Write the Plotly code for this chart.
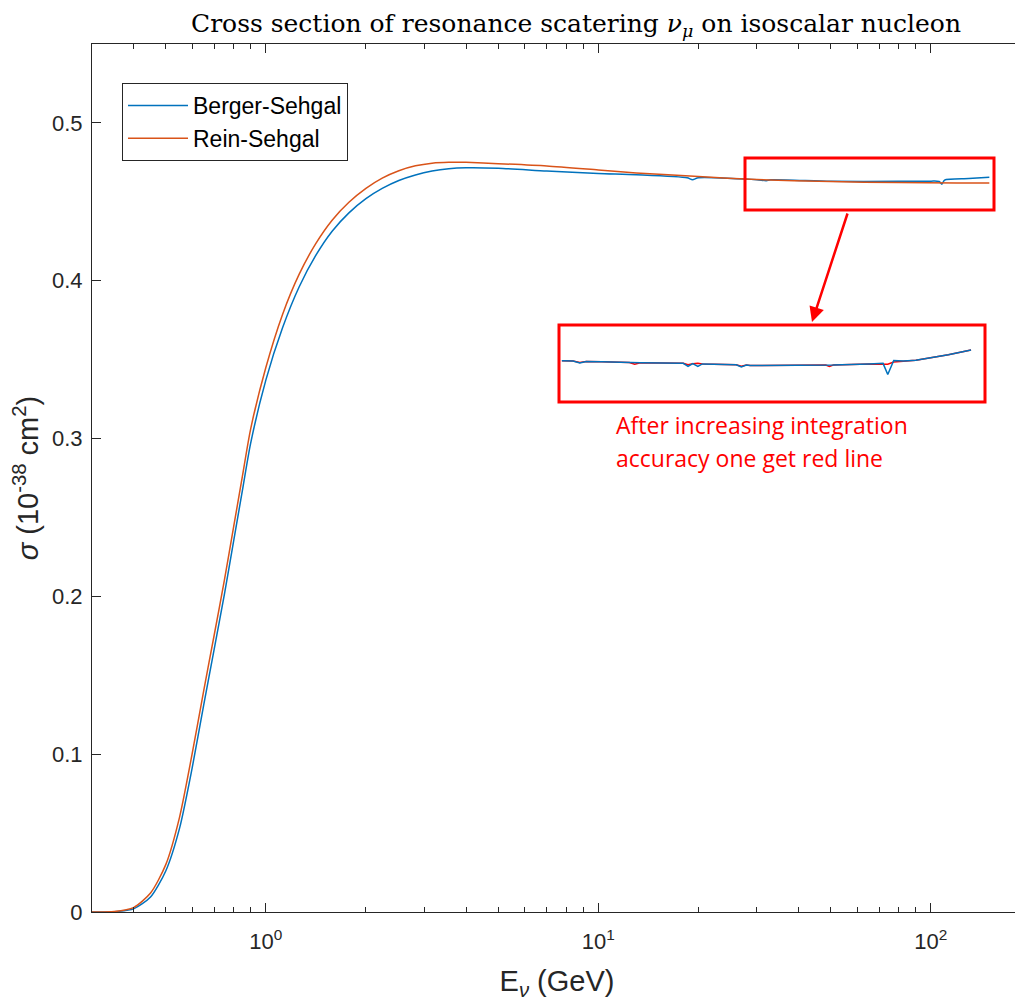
import numpy as np
import plotly.graph_objects as go

# ---------------- data ----------------
energy_rs = [0.30, 0.35, 0.40, 0.45, 0.50, 0.55, 0.60, 0.65, 0.70, 0.75, 0.80, 0.85, 0.90,
             1.0, 1.122, 1.259, 1.413, 1.585, 1.778, 2.0, 2.239, 2.512, 2.818, 3.162, 3.548, 4.0,
             5.0, 7.0, 10.0, 13.0, 20.0, 30.0, 50.0, 80.0, 120.0, 150.0]
sigma_rs = [0.0, 0.0003, 0.0028, 0.012, 0.030, 0.060, 0.100, 0.140, 0.176, 0.210, 0.244, 0.276, 0.306,
            0.345, 0.3785, 0.404, 0.4235, 0.4385, 0.4497, 0.4585, 0.4650, 0.4697, 0.4728, 0.4745, 0.4751, 0.4750,
            0.4742, 0.4727, 0.4702, 0.4683, 0.4660, 0.4641, 0.4628, 0.4622, 0.4620, 0.4620]

energy_bs = [0.30, 0.35, 0.40, 0.45, 0.50, 0.55, 0.60, 0.65, 0.70, 0.75, 0.80, 0.85, 0.90,
             1.0, 1.122, 1.259, 1.413, 1.585, 1.778, 2.0, 2.239, 2.512, 2.818, 3.162, 3.548, 4.0,
             5.0, 7.0, 10.0, 13.0, 18.5, 19.2, 20.0, 30.0, 32.0, 33.0, 50.0, 80.0, 100.0, 106.0,
             108.0, 110.0, 130.0, 150.0]
sigma_bs = [0.0, 0.0002, 0.0020, 0.0095, 0.026, 0.053, 0.091, 0.131, 0.167, 0.201, 0.235, 0.267, 0.297,
            0.337, 0.370, 0.396, 0.416, 0.4315, 0.4430, 0.4520, 0.4585, 0.4635, 0.4670, 0.4695, 0.4710, 0.4716,
            0.4713, 0.4695, 0.4679, 0.4671, 0.4652, 0.4640, 0.4652, 0.4640, 0.4634, 0.4640, 0.4630, 0.4630, 0.4631, 0.4629,
            0.4612, 0.4638, 0.4647, 0.4656]

# inset (zoomed view of the high-energy region)
inset_energy = [27.7, 29.0, 29.8, 30.6, 32.6, 36.5, 37.3, 38.2, 45.5, 46.4, 47.3, 48.3, 49.2,
                56.5, 57.7, 58.9, 59.8, 70.0, 81.5, 82.7, 84.0, 97.3, 103.0, 105.0, 107.6,
                112.0, 117.8, 134.5, 147.6]
inset_bs = [0.4642, 0.4641, 0.4634, 0.4640, 0.4639, 0.4636, 0.4634, 0.4635, 0.4633, 0.4622, 0.4632, 0.4622, 0.4631,
            0.4628, 0.4620, 0.4627, 0.4625, 0.4626, 0.4627, 0.4627, 0.4627, 0.4631, 0.4633, 0.4593, 0.4643,
            0.4641, 0.4644, 0.4664, 0.4681]
inset_rs = [0.4642, 0.4641, 0.4636, 0.4640, 0.4639, 0.4636, 0.4630, 0.4635, 0.4633, 0.4628, 0.4632, 0.4633, 0.4631,
            0.4628, 0.4623, 0.4627, 0.4625, 0.4626, 0.4627, 0.4622, 0.4627, 0.4631, 0.4630, 0.4630, 0.4638,
            0.4641, 0.4644, 0.4664, 0.4681]

y_ticks = [0, 0.1, 0.2, 0.3, 0.4, 0.5]
y_ticktext = ["0", "0.1", "0.2", "0.3", "0.4", "0.5"]
x_ticks = [1, 10, 100]
x_ticktext = ["10<sup>0</sup>", "10<sup>1</sup>", "10<sup>2</sup>"]
x_minor = [0.4, 0.5, 0.6, 0.7, 0.8, 0.9, 2, 3, 4, 5, 6, 7, 8, 9,
           20, 30, 40, 50, 60, 70, 80, 90, 200]

legend_names = ["Berger-Sehgal", "Rein-Sehgal"]
note_lines = ["After increasing integration", "accuracy one get red line"]

# ---------------- layout helpers ----------------
# The page body has an 8px margin, so the figure is drawn 8px right/down of the
# screenshot origin.  Reference pixel positions are converted with OFF.
W, H = 1023, 1002
OFF = 8
L, R, T, B = 92, 1022, 44, 912   # plot area in screenshot pixels


def px(x):
    return (x - L) / (R - L)


def py(y):
    return (B - y) / (B - T)


BLUE = "#0072BD"
ORANGE = "#D95319"
AX = "#262626"
RED = "#FF0000"

fig = go.Figure()

fig.add_trace(go.Scatter(x=energy_bs, y=sigma_bs, mode="lines", name=legend_names[0],
                         line=dict(color=BLUE, width=1.5, shape="spline", smoothing=0.7)))
fig.add_trace(go.Scatter(x=energy_rs, y=sigma_rs, mode="lines", name=legend_names[1],
                         line=dict(color=ORANGE, width=1.5, shape="spline", smoothing=0.7)))

# inset curves
fig.add_trace(go.Scatter(x=inset_energy, y=inset_rs, mode="lines", showlegend=False,
                         xaxis="x2", yaxis="y2", line=dict(color=RED, width=1.5)))
fig.add_trace(go.Scatter(x=inset_energy, y=inset_bs, mode="lines", showlegend=False,
                         xaxis="x2", yaxis="y2", line=dict(color=BLUE, width=1.5)))

fig.update_layout(
    width=W, height=H,
    margin=dict(l=L - OFF, r=W - (R - OFF), t=T - OFF, b=H - (B - OFF), pad=0),
    paper_bgcolor="white", plot_bgcolor="white",
    font=dict(family="Liberation Sans, Arial, sans-serif", size=21, color=AX),
    title=dict(text="Cross section of resonance scatering <i>ν</i><sub><i>μ</i></sub> on isoscalar nucleon",
               font=dict(family="DejaVu Serif, serif", size=25, color="black"),
               x=px(576), xref="paper", xanchor="center",
               y=1 - (23 - OFF) / H, yref="container", yanchor="middle"),
    xaxis=dict(type="log", range=[np.log10(0.3), np.log10(188.1)], automargin=False,
               showline=True, linecolor=AX, linewidth=1, mirror="ticks",
               ticks="inside", ticklen=9, tickwidth=1, tickcolor=AX,
               tickvals=x_ticks, ticktext=x_ticktext, ticklabelstandoff=10,
               tickfont=dict(size=22, color=AX),
               minor=dict(tickvals=x_minor, ticks="inside", ticklen=5, tickwidth=1, tickcolor=AX),
               showgrid=False, zeroline=False,
               title=dict(text="E<sub><i>ν</i></sub> (GeV)", font=dict(size=29, color=AX), standoff=17)),
    yaxis=dict(range=[0, 0.55], showline=True, linecolor=AX, linewidth=1, mirror=False, automargin=False,
               ticks="inside", ticklen=9, tickwidth=1, tickcolor=AX,
               tickvals=y_ticks, ticktext=y_ticktext, ticklabelstandoff=4,
               tickfont=dict(size=22, color=AX),
               showgrid=False, zeroline=False,
               title=dict(text="<i>σ</i> (10<sup>-38</sup> cm<sup>2</sup>)", font=dict(size=29, color=AX), standoff=4)),
    xaxis2=dict(type="log", range=[np.log10(27.6), np.log10(155)], domain=[px(561), px(983)],
                anchor="y2", visible=False),
    yaxis2=dict(range=[0.4502, 0.4763], domain=[py(400), py(327)], anchor="x2", visible=False),
    legend=dict(x=px(122), y=py(83), xanchor="left", yanchor="top",
                bordercolor=AX, borderwidth=1, bgcolor="white",
                font=dict(size=23, color="black"), itemwidth=60,
                tracegroupgap=0),
    showlegend=True,
)

# red boxes
fig.add_shape(type="rect", xref="paper", yref="paper", x0=px(745), x1=px(994), y0=py(210), y1=py(158),
              line=dict(color=RED, width=3))
fig.add_shape(type="rect", xref="paper", yref="paper", x0=px(559), x1=px(985), y0=py(402), y1=py(325),
              line=dict(color=RED, width=3))

# arrow
fig.add_annotation(xref="paper", yref="paper", x=px(812), y=py(322), ax=848 - 812, ay=212 - 322,
                   axref="pixel", ayref="pixel", text="", showarrow=True,
                   arrowcolor=RED, arrowwidth=2.5, arrowhead=2, arrowsize=1.2)

# note text
for i, line in enumerate(note_lines):
    fig.add_annotation(xref="paper", yref="paper", x=px(614), y=py(425 + 33 * i),
                       xanchor="left", yanchor="middle", text=line, showarrow=False,
                       font=dict(family="Open Sans, sans-serif", size=23, color=RED))

fig.write_html("out.html")
